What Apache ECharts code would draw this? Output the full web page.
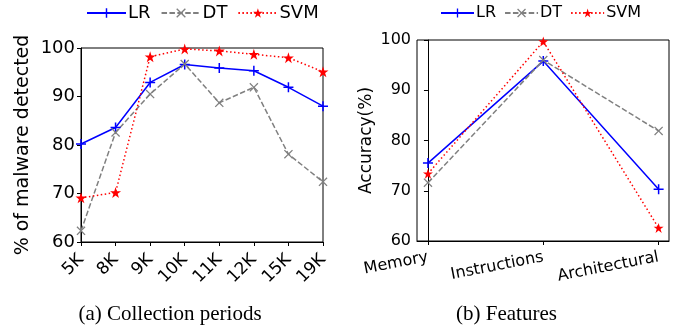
<!DOCTYPE html>
<html>
<head>
<meta charset="utf-8">
<script src="https://cdn.jsdelivr.net/npm/echarts@6/dist/echarts.min.js"></script>
<style>
  html, body { margin: 0; padding: 0; background: #fff; }
  #wrap { width: 673px; height: 326px; position: relative; }
  #chartA { position: absolute; left: 0; top: 0; width: 340px; height: 326px; }
  #chartB { position: absolute; left: 340px; top: 0; width: 333px; height: 326px; }
</style>
</head>
<body>
<div id="wrap">
  <div id="chartA"></div>
  <div id="chartB"></div>
</div>
<script>
// (a) collection periods
const periods = ['5K', '8K', '9K', '10K', '11K', '12K', '15K', '19K'];
const lrPeriods = [80.2, 83.6, 92.9, 96.6, 95.9, 95.3, 91.9, 88.0];
const dtPeriods = [62.3, 82.6, 90.5, 96.7, 88.7, 91.9, 78.1, 72.4];
const svmPeriods = [69.1, 70.2, 98.2, 99.8, 99.4, 98.7, 98.0, 95.1];

// (b) features
const features = ['Memory', 'Instructions', 'Architectural'];
const lrFeatures = [75.5, 95.8, 70.3];
const dtFeatures = [71.6, 96.0, 81.9];
const svmFeatures = [73.4, 99.7, 62.6];

const yTicks = [60, 70, 80, 90, 100];

const PLUS = 'path://M8.5,0h3v8.5h8.5v3h-8.5v8.5h-3v-8.5h-8.5v-3h8.5z';
const CROSS = 'path://M0,2L2,0L10,8L18,0L20,2L12,10L20,18L18,20L10,12L2,20L0,18L8,10Z';
const STAR = 'path://M10,0L12.245,6.91L19.511,6.91L13.633,11.18L15.878,18.09L10,13.82L4.122,18.09L6.367,11.18L0.489,6.91L7.755,6.91Z';

const font = 'DejaVu Sans';

function makeSeries(name, data, color, type, symbol, size) {
  return {
    name: name,
    type: 'line',
    data: data,
    symbol: symbol,
    symbolSize: size,
    showSymbol: true,
    animation: false,
    lineStyle: { color: color, width: 1.5, type: type },
    itemStyle: { color: color, borderWidth: 0 },
    emphasis: { disabled: true }
  }
}

function yAxisOpt(name, fs, gap) {
  return {
    type: 'value',
    min: yTicks[0],
    max: yTicks[yTicks.length - 1],
    interval: 10,
    name: name,
    nameLocation: 'middle',
    nameGap: gap,
    nameMoveOverlap: false,
    nameTextStyle: { fontFamily: font, fontSize: fs + 1, color: '#000' },
    axisLine: { show: true, lineStyle: { color: '#000', width: 1 } },
    axisTick: { show: true, length: 4, lineStyle: { color: '#000' } },
    axisLabel: { fontFamily: font, fontSize: fs, color: '#000', margin: 6 },
    splitLine: { show: false }
  }
}

const chartA = echarts.init(document.getElementById('chartA'), null, { renderer: 'canvas' });
chartA.setOption({
  animation: false,
  backgroundColor: '#fff',
  legend: {
    left: 86, top: 4, padding: 0,
    itemWidth: 39, itemHeight: 12, itemGap: 10,
    textStyle: { fontFamily: font, fontSize: 18, color: '#000', padding: [0, 0, 0, -3] },
    data: ['LR', 'DT', 'SVM']
  },
  grid: {
    left: 81, top: 48, width: 242, height: 194,
    show: true, borderColor: '#000', borderWidth: 1, backgroundColor: 'transparent'
  },
  xAxis: {
    type: 'category',
    data: periods,
    boundaryGap: false,
    axisLine: { show: true, lineStyle: { color: '#000' } },
    axisTick: { show: true, length: 4, alignWithLabel: true, lineStyle: { color: '#000' } },
    axisLabel: { interval: 0, rotate: 45, fontFamily: font, fontSize: 17, color: '#000', margin: 15 },
    splitLine: { show: false }
  },
  yAxis: yAxisOpt('% of malware detected', 18, 48),
  graphic: [{
    type: 'text', left: 'center', top: 304,
    style: { text: '(a) Collection periods', font: '21px "Liberation Serif"', fill: '#000' }
  }],
  series: [
    makeSeries('LR', lrPeriods, '#0000ff', 'solid', PLUS, 10),
    makeSeries('DT', dtPeriods, '#808080', [5.5, 2.4], CROSS, 9),
    makeSeries('SVM', svmPeriods, '#ff0000', [1.5, 2.5], STAR, 11)
  ]
});

const idx = features.map((f, i) => i);
const pairs = arr => arr.map((v, i) => [idx[i], v]);

const chartB = echarts.init(document.getElementById('chartB'), null, { renderer: 'canvas' });
chartB.setOption({
  animation: false,
  backgroundColor: '#fff',
  legend: {
    left: 100, top: 5, padding: 0,
    itemWidth: 33, itemHeight: 11, itemGap: 8,
    textStyle: { fontFamily: font, fontSize: 16, color: '#000', padding: [0, 0, 0, -3] },
    data: ['LR', 'DT', 'SVM']
  },
  grid: {
    left: 77, top: 40, width: 252, height: 201,
    show: true, borderColor: '#000', borderWidth: 1, backgroundColor: 'transparent'
  },
  xAxis: {
    type: 'value',
    min: -0.095,
    max: 2.09,
    axisLine: { show: true, lineStyle: { color: '#000' } },
    axisTick: { show: true, length: 4, customValues: idx, lineStyle: { color: '#000' } },
    axisLabel: {
      customValues: idx, rotate: 11, fontFamily: font, fontSize: 16, color: '#000', margin: 16,
      formatter: v => features[Math.round(v)]
    },
    splitLine: { show: false }
  },
  yAxis: yAxisOpt('Accuracy(%)', 16, 42),
  graphic: [{
    type: 'text', left: 'center', top: 304,
    style: { text: '(b) Features', font: '21px "Liberation Serif"', fill: '#000' }
  }],
  series: [
    makeSeries('LR', pairs(lrFeatures), '#0000ff', 'solid', PLUS, 10),
    makeSeries('DT', pairs(dtFeatures), '#808080', [5.5, 2.4], CROSS, 9),
    makeSeries('SVM', pairs(svmFeatures), '#ff0000', [1.5, 2.5], STAR, 10)
  ]
});
</script>
</body>
</html>
